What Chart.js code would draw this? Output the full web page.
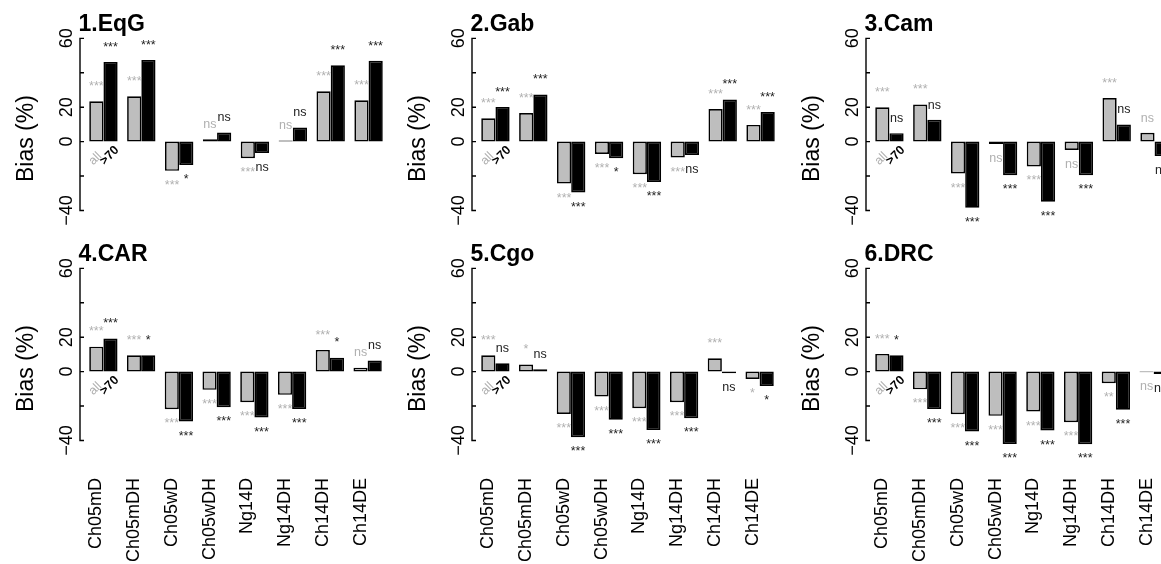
<!DOCTYPE html>
<html>
<head>
<meta charset="utf-8">
<script src="https://cdn.jsdelivr.net/npm/chart.js@4.4.1/dist/chart.umd.min.js"></script>
<style>
  html, body { margin: 0; padding: 0; background: #fff; overflow: hidden; }
  #wrap { position: relative; width: 1161px; height: 564px; overflow: hidden; background: #fff; }
  #wrap canvas { position: absolute; }
</style>
</head>
<body>
<div id="wrap"></div>
<script>
// ---------------- DATA ----------------
const categories = ['Ch05mD','Ch05mDH','Ch05wD','Ch05wDH','Ng14D','Ng14DH','Ch14DH','Ch14DE'];
const panelTitles = ['1.EqG','2.Gab','3.Cam','4.CAR','5.Cgo','6.DRC'];
const seriesNames = ['all', '>70'];
const yTickValues = [60, 40, 20, 0, -20, -40];
const yTickLabels = ['60', '', '20', '0', '', '\u221240'];

// bias (%) for all ages
const biasAll1 = [23.4, 26.3, -17.0, 1.4, -9.7, 0.6, 29.2, 24.0];
const biasAll2 = [13.6, 16.6, -24.4, -7.2, -18.9, -9.2, 18.9, 9.7];
const biasAll3 = [19.9, 21.6, -18.5, -1.4, -14.4, -4.9, 25.3, 5.1];
const biasAll4 = [14.5, 9.5, -21.9, -10.6, -17.8, -13.5, 12.6, 2.3];
const biasAll5 = [9.5, 4.1, -24.6, -14.5, -21.3, -17.8, 7.7, -4.3];
const biasAll6 = [10.3, -10.3, -24.8, -25.7, -23.2, -29.4, -6.8, -0.4];

// bias (%) for age > 70
const biasOld1 = [46.2, 47.4, -13.6, 5.3, -6.6, 8.2, 44.4, 47.0];
const biasOld2 = [20.1, 27.3, -29.6, -9.7, -23.4, -7.8, 24.4, 17.2];
const biasOld3 = [4.9, 12.7, -38.4, -19.5, -34.9, -19.5, 9.9, -8.4];
const biasOld4 = [19.2, 9.5, -29.0, -20.7, -26.7, -21.7, 8.1, 6.4];
const biasOld5 = [4.8, 1.4, -38.1, -28.0, -33.9, -27.1, -1.0, -8.4];
const biasOld6 = [9.5, -21.7, -34.8, -42.0, -34.2, -42.2, -22.2, -1.4];

// significance labels
const sigAll1 = ['***','***','***','ns','***','ns','***','***'];
const sigAll2 = ['***','***','***','***','***','***','***','***'];
const sigAll3 = ['***','***','***','ns','***','ns','***','ns'];
const sigAll4 = ['***','***','***','***','***','***','***','ns'];
const sigAll5 = ['***','*','***','***','***','***','***','*'];
const sigAll6 = ['***','***','***','***','***','***','**','ns'];

const sigOld1 = ['***','***','*','ns','ns','ns','***','***'];
const sigOld2 = ['***','***','***','*','***','ns','***','***'];
const sigOld3 = ['ns','ns','***','***','***','***','ns','ns'];
const sigOld4 = ['***','*','***','***','***','***','*','ns'];
const sigOld5 = ['ns','ns','***','***','***','***','ns','*'];
const sigOld6 = ['*','***','***','***','***','***','***','ns'];

const allSeries = [biasAll1, biasAll2, biasAll3, biasAll4, biasAll5, biasAll6];
const oldSeries = [biasOld1, biasOld2, biasOld3, biasOld4, biasOld5, biasOld6];
const allSig = [sigAll1, sigAll2, sigAll3, sigAll4, sigAll5, sigAll6];
const oldSig = [sigOld1, sigOld2, sigOld3, sigOld4, sigOld5, sigOld6];

// ---------------- STYLE / LAYOUT ----------------
const FONT = '"Liberation Sans", Arial, Helvetica, sans-serif';
const GRAY = '#bebebe';
const GRAY_TEXT = '#b0b0b0';
const colLeft = [0, 392, 786];
const rowTop = [0, 230];
const CW = 400;

const decoPlugin = {
  id: 'deco',
  afterDatasetsDraw(chart, args, opts) {
    const { ctx, chartArea } = chart;
    const y = chart.scales.y;
    const axisX = chartArea.left - 4.5;
    const zeroY = y.getPixelForValue(0);
    ctx.save();
    // y axis (R style)
    ctx.strokeStyle = '#000';
    ctx.lineWidth = 1.4;
    ctx.beginPath();
    ctx.moveTo(axisX, y.getPixelForValue(yTickValues[0]));
    ctx.lineTo(axisX, y.getPixelForValue(yTickValues[yTickValues.length - 1]));
    yTickValues.forEach(t => {
      const py = y.getPixelForValue(t);
      ctx.moveTo(axisX - 0.7, py);
      ctx.lineTo(axisX + 4, py);
    });
    ctx.stroke();
    // tick labels, rotated
    ctx.fillStyle = '#000';
    ctx.font = '18px ' + FONT;
    ctx.textAlign = 'center';
    ctx.textBaseline = 'alphabetic';
    yTickValues.forEach((t, i) => {
      if (!yTickLabels[i]) return;
      ctx.save();
      ctx.translate(axisX - 8.5, y.getPixelForValue(t));
      ctx.rotate(-Math.PI / 2);
      ctx.fillText(yTickLabels[i], 0, 0);
      ctx.restore();
    });
    // y title
    ctx.save();
    ctx.font = '23px ' + FONT;
    ctx.translate(axisX - 47, zeroY - 3);
    ctx.rotate(-Math.PI / 2);
    ctx.fillText('Bias (%)', 0, 0);
    ctx.restore();
    // panel title
    ctx.font = 'bold 23px ' + FONT;
    ctx.textAlign = 'left';
    ctx.fillText(opts.title, axisX - 1.5, chartArea.top + 3);
    // significance annotations
    ctx.font = '12.5px ' + FONT;
    ctx.textAlign = 'center';
    ctx.textBaseline = 'middle';
    chart.data.datasets.forEach((ds, di) => {
      const meta = chart.getDatasetMeta(di);
      const sig = opts.sig[di];
      ctx.fillStyle = di === 0 ? GRAY_TEXT : '#222';
      meta.data.forEach((bar, j) => {
        const v = ds.data[j];
        const ly = y.getPixelForValue(v >= 0 ? v + 8.5 : v - 8.5);
        ctx.fillText(sig[j], bar.x, ly);
      });
    });
    // series labels under the first group
    const m0 = chart.getDatasetMeta(0).data[0];
    const m1 = chart.getDatasetMeta(1).data[0];
    ctx.textAlign = 'left';
    ctx.textBaseline = 'alphabetic';
    ctx.save();
    ctx.fillStyle = GRAY_TEXT;
    ctx.font = '12.5px ' + FONT;
    ctx.translate(m0.x - 3, zeroY + 24);
    ctx.rotate(-Math.PI / 4);
    ctx.fillText(seriesNames[0], 0, 0);
    ctx.restore();
    ctx.save();
    ctx.fillStyle = '#000';
    ctx.font = 'bold 12.5px ' + FONT;
    ctx.translate(m1.x - 6, zeroY + 24);
    ctx.rotate(-Math.PI / 4);
    ctx.fillText(seriesNames[1], 0, 0);
    ctx.restore();
    ctx.restore();
  }
};

const wrap = document.getElementById('wrap');
for (let p = 0; p < 6; p++) {
  const row = Math.floor(p / 3), col = p % 3;
  const H = row === 0 ? 240 : 334;
  const cv = document.createElement('canvas');
  cv.width = CW; cv.height = H;
  cv.style.width = CW + 'px'; cv.style.height = H + 'px';
  cv.style.left = colLeft[col] + 'px';
  cv.style.top = rowTop[row] + 'px';
  wrap.appendChild(cv);
  const bottomRow = row === 1;
  new Chart(cv, {
    type: 'bar',
    data: {
      labels: categories,
      datasets: [
        { label: seriesNames[0], data: allSeries[p], backgroundColor: GRAY, borderColor: '#000', borderWidth: 1.7,
          borderSkipped: false, barPercentage: 1, categoryPercentage: 0.75 },
        { label: seriesNames[1], data: oldSeries[p], backgroundColor: '#000', borderColor: '#000', borderWidth: 1.7,
          borderSkipped: false, barPercentage: 1, categoryPercentage: 0.75 }
      ]
    },
    options: {
      responsive: false,
      animation: false,
      devicePixelRatio: 1,
      layout: { padding: { left: 84.5, right: 12.5, top: 28, bottom: bottomRow ? 0 : 2 } },
      plugins: {
        legend: { display: false },
        tooltip: { enabled: false },
        deco: { title: panelTitles[p], sig: [allSig[p], oldSig[p]] }
      },
      scales: {
        y: { display: false, min: -56, max: 66 },
        x: {
          display: bottomRow,
          grid: { display: false, drawTicks: false },
          border: { display: false },
          ticks: {
            autoSkip: false, minRotation: 90, maxRotation: 90, padding: 10, labelOffset: -7,
            color: '#000', font: { family: FONT, size: 18 }
          },
          afterFit: (s) => { s.height = bottomRow ? 96 : 0; }
        }
      }
    },
    plugins: [decoPlugin]
  });
}
</script>
</body>
</html>
